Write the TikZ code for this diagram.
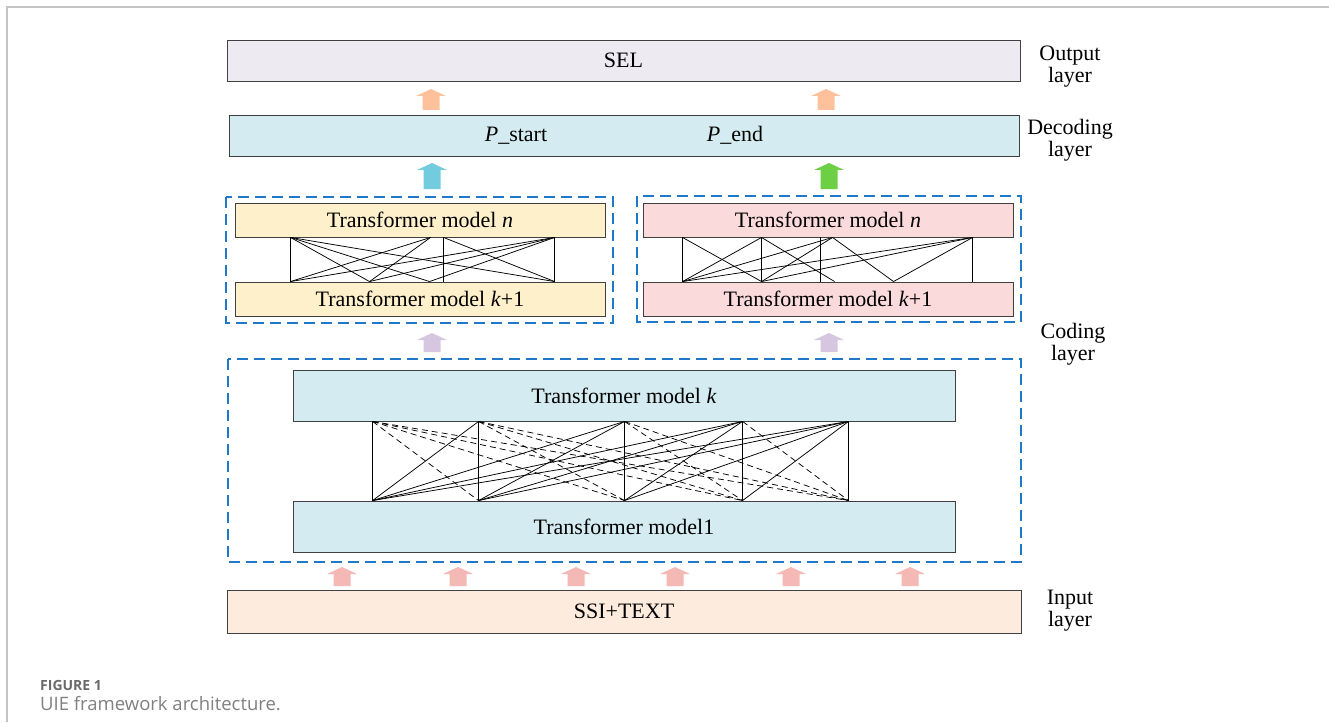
\documentclass[tikz,border=0pt]{standalone}
\usepackage{fontspec}
\setmainfont{Liberation Serif}
\newfontfamily\capfont{Open Sans}
\usetikzlibrary{calc}

\definecolor{selfill}{HTML}{EDEAF2}
\definecolor{bluefill}{HTML}{D4ECF1}
\definecolor{yelfill}{HTML}{FFF0CC}
\definecolor{pinkfill}{HTML}{FADADA}
\definecolor{inpfill}{HTML}{FDEBDD}
\definecolor{dashblue}{HTML}{1F78C8}
\definecolor{arrOrange}{HTML}{FFC19C}
\definecolor{arrCyan}{HTML}{72CCDD}
\definecolor{arrGreen}{HTML}{6CCF44}
\definecolor{arrLav}{HTML}{D7C6E0}
\definecolor{arrPink}{HTML}{F4B8B5}
\definecolor{framegray}{HTML}{C4C4C4}
\definecolor{capgray}{HTML}{6A6A6A}

\begin{document}
\begin{tikzpicture}[x=1pt,y=-1pt,
  box/.style={draw=black!75, line width=0.9pt, inner sep=0pt,
    font=\fontsize{22}{24}\selectfont},
  layerlabel/.style={align=center, inner sep=0pt,
    font=\fontsize{22}{22}\selectfont},
  grp/.style={draw=dashblue, line width=1.7pt, dash pattern=on 11pt off 6pt},
  link/.style={draw=black, line width=0.75pt},
  dlink/.style={draw=black, line width=0.75pt, dash pattern=on 6pt off 4pt},
  pics/blockup/.style={code={
    \fill[pic actions] (-8.5,0) -- (-8.5,{-#1+7}) -- (-15,{-#1+7}) -- (0,-#1)
      -- (15,{-#1+7}) -- (8.5,{-#1+7}) -- (8.5,0) -- cycle;}}
]
\useasboundingbox (0,0) rectangle (1329,722);

% page frame
\draw[framegray, line width=1.2pt] (7,722) -- (7,7) -- (1329,7);

% output and decoding layers
\node[box, fill=selfill, minimum width=793, minimum height=41] (sel) at (623.5,60.5) {SEL};
\node[box, fill=bluefill, minimum width=790, minimum height=41] (dec) at (624,135.5) {};
\node[font=\fontsize{22}{24}\selectfont, inner sep=0pt] (pstart) at (516,135.5) {\textit{P}\_start};
\node[font=\fontsize{22}{24}\selectfont, inner sep=0pt] (pend) at (735,135.5) {\textit{P}\_end};

% upper coding groups
\draw[grp] (226,197) rectangle (613,323);
\draw[grp] (637,196) rectangle (1021,322);
\node[box, fill=yelfill, minimum width=370, minimum height=34] (lnA) at (420,220) {Transformer model \textit{n}};
\node[box, fill=yelfill, minimum width=370, minimum height=34] (lnB) at (420,299) {Transformer model \textit{k}+1};
\node[box, fill=pinkfill, minimum width=370, minimum height=34] (rnA) at (828,220) {Transformer model \textit{n}};
\node[box, fill=pinkfill, minimum width=370, minimum height=34] (rnB) at (828,299) {Transformer model \textit{k}+1};

% lower coding group
\draw[grp] (228,359) rectangle (1021,562);
\node[box, fill=bluefill, minimum width=662, minimum height=51] (tmk) at (624,395.5) {Transformer model \textit{k}};
\node[box, fill=bluefill, minimum width=662, minimum height=51] (tm1) at (624,526.5) {Transformer model1};

% input layer
\node[box, fill=inpfill, minimum width=794, minimum height=43] (inp) at (624,611.5) {SSI+TEXT};

% layer labels
\node[layerlabel] (lout) at (1070,66.5) {Output\\layer};
\node[layerlabel] (ldec) at (1070,140) {Decoding\\layer};
\node[layerlabel] (lcod) at (1073,344) {Coding\\layer};
\node[layerlabel] (linp) at (1070,611) {Input\\layer};

% attachment points of the left group
\foreach \i/\d in {1/56,2/196,3/209,4/320}
  \coordinate (la\i) at ($(lnA.south west)+(\d,0)$);
\foreach \i/\d in {1/56,2/135,3/195,4/209,5/320}
  \coordinate (lb\i) at ($(lnB.north west)+(\d,0)$);
\foreach \a/\b in {1/1,3/4,4/5,1/2,1/3,1/5,2/1,2/2,3/5,4/1,4/2,4/3}
  \draw[link] (la\a) -- (lb\b);

% attachment points of the right group
\foreach \i/\d in {1/40,2/119,3/178,4/190,5/330}
  \coordinate (ra\i) at ($(rnA.south west)+(\d,0)$);
\foreach \i/\d in {1/40,2/119,3/178,4/192,5/251,6/330}
  \coordinate (rb\i) at ($(rnB.north west)+(\d,0)$);
\foreach \a/\b in {1/1,2/2,3/3,5/6,1/2,2/1,2/4,4/1,4/2,4/5,5/5,5/1,5/2}
  \draw[link] (ra\a) -- (rb\b);

% attachment points of the lower group
\foreach \i/\d in {1/80,2/186,3/332,4/450,5/556} {
  \coordinate (ka\i) at ($(tmk.south west)+(\d,0)$);
  \coordinate (kb\i) at ($(tm1.north west)+(\d,0)$);
}
\foreach \i in {1,...,5}
  \draw[link] (ka\i) -- (kb\i);
\foreach \i in {1,...,4} {
  \pgfmathtruncatemacro\nxt{\i+1}
  \foreach \j in {\nxt,...,5} {
    \draw[link] (kb\i) -- (ka\j);
    \draw[dlink] (ka\i) -- (kb\j);
  }
}

% block arrows
\pic[fill=arrOrange] at (431,110) {blockup=21};
\pic[fill=arrOrange] at (826,110) {blockup=21};
\pic[fill=arrCyan] at (432,189) {blockup=26};
\pic[fill=arrGreen] at (829,189) {blockup=26};
\pic[fill=arrLav] at (432,352) {blockup=19};
\pic[fill=arrLav] at (829,352) {blockup=19};
\foreach \x in {342,458,576,675,791,910}
  \pic[fill=arrPink] at (\x,586) {blockup=19};

% caption
\node[anchor=base west, inner sep=0pt, text=capgray,
  font=\capfont\bfseries\fontsize{14}{16}\selectfont] (figno) at (40,690) {FIGURE 1};
\node[anchor=base west, inner sep=0pt, text=capgray!85,
  font=\capfont\fontsize{18.5}{20}\selectfont] (figcap) at (40,710) {UIE framework architecture.};
\end{tikzpicture}
\end{document}
